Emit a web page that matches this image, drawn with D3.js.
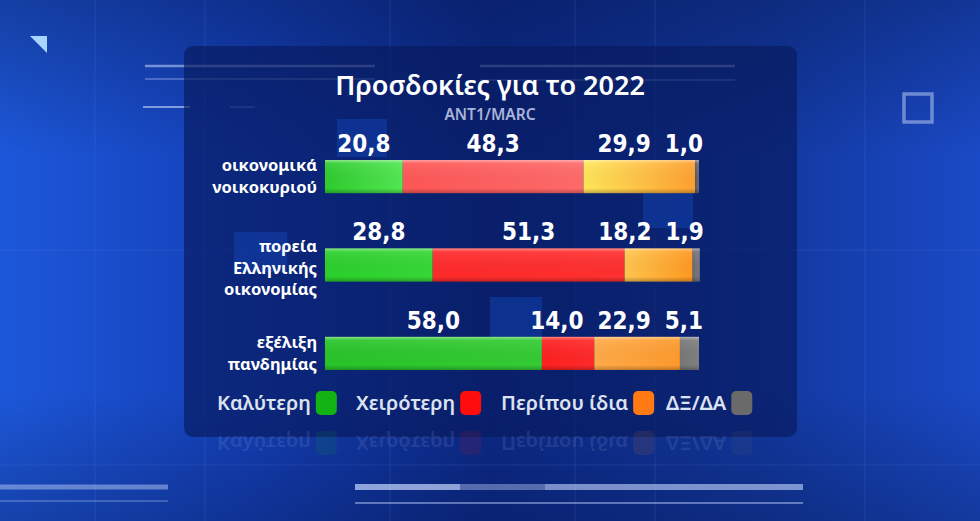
<!DOCTYPE html>
<html>
<head>
<meta charset="utf-8">
<script src="https://cdn.jsdelivr.net/npm/d3@7"></script>
<style>
html,body{margin:0;padding:0;background:#0d2a86;overflow:hidden;}
svg{display:block;}
</style>
</head>
<body>
<svg id="chart" width="980" height="521"></svg>
<script>
// ---------- DATA ----------
const title = "Προσδοκίες για το 2022";
const subtitle = "ANT1/MARC";
const categories = ["οικονομικά νοικοκυριού", "πορεία Ελληνικής οικονομίας", "εξέλιξη πανδημίας"];
const categoryLines = [["οικονομικά", "νοικοκυριού"], ["πορεία", "Ελληνικής", "οικονομίας"], ["εξέλιξη", "πανδημίας"]];
const seriesNames = ["Καλύτερη", "Χειρότερη", "Περίπου ίδια", "ΔΞ/ΔΑ"];
const better = [20.8, 28.8, 58.0];
const worse = [48.3, 51.3, 14.0];
const same = [29.9, 18.2, 22.9];
const dkna = [1.0, 1.9, 5.1];

// ---------- SETUP ----------
const svg = d3.select("#chart");
const W = 980, H = 521;
const defs = svg.append("defs");

const rows = categories.map((c, i) => ({cat: c, i, s0: better[i], s1: worse[i], s2: same[i], s3: dkna[i]}));
const keys = ["s0", "s1", "s2", "s3"];
const stack = d3.stack().keys(keys)(rows);

const x = d3.scaleLinear().domain([0, 100]).range([325, 699]);
const y = d3.scaleBand().domain(d3.range(categories.length)).range([160, 370]).paddingInner(0.625).paddingOuter(0);

const legendColors = ["#14b314", "#ff0c0c", "#ff7a12", "#6a6a6a"];
// per-row, per-series gradient styles (broadcast frame tints)
const barStyles = [
  [["#2ecb2e", "#52e852"], ["#ff5656", "#ff6a6a"], ["#ffe65a", "#ffa030"], ["#5c5c66", "#6c6c74"]],
  [["#2bcf2b", "#36d836"], ["#ff2a2a", "#ff3030"], ["#ffc64e", "#ff9820"], ["#6a6a72", "#7a7a82"]],
  [["#28c428", "#34cc34"], ["#ff2020", "#ff2a2a"], ["#ffab48", "#ff9a2c"], ["#767676", "#808080"]]
];

// ---------- BACKGROUND ----------
const bg = defs.append("linearGradient").attr("id", "bg").attr("x1", 0).attr("x2", 1).attr("y1", 0).attr("y2", 0);
bg.append("stop").attr("offset", "0%").attr("stop-color", "#1d58da");
bg.append("stop").attr("offset", "25%").attr("stop-color", "#1440b8");
bg.append("stop").attr("offset", "50%").attr("stop-color", "#0c2a88");
bg.append("stop").attr("offset", "78%").attr("stop-color", "#12389f");
bg.append("stop").attr("offset", "100%").attr("stop-color", "#1a4ac6");
svg.append("rect").attr("width", W).attr("height", H).attr("fill", "url(#bg)");

const vshade = defs.append("linearGradient").attr("id", "vshade").attr("x1", 0).attr("x2", 0).attr("y1", 0).attr("y2", 1);
vshade.append("stop").attr("offset", "0%").attr("stop-color", "#04113f").attr("stop-opacity", 0.35);
vshade.append("stop").attr("offset", "30%").attr("stop-color", "#04113f").attr("stop-opacity", 0.0);
vshade.append("stop").attr("offset", "75%").attr("stop-color", "#04113f").attr("stop-opacity", 0.0);
vshade.append("stop").attr("offset", "100%").attr("stop-color", "#04113f").attr("stop-opacity", 0.3);
svg.append("rect").attr("width", W).attr("height", H).attr("fill", "url(#vshade)");

// faint grid
const gridX = [95, 205, 390, 575, 655, 865];
const gridY = [250, 465];
svg.append("g").selectAll("line").data(gridX).join("line")
  .attr("x1", d => d).attr("x2", d => d).attr("y1", 0).attr("y2", H)
  .attr("stroke", "#6f8fe8").attr("stroke-opacity", 0.12).attr("stroke-width", 1.5);
svg.append("g").selectAll("line").data(gridY).join("line")
  .attr("x1", 0).attr("x2", W).attr("y1", d => d).attr("y2", d => d)
  .attr("stroke", "#6f8fe8").attr("stroke-opacity", 0.12).attr("stroke-width", 1.5);

// decorative lines
const deco = svg.append("g");
const decoLines = [
  [145, 375, 66, 2.5, 0.55], [145, 375, 79, 1.5, 0.4],
  [480, 735, 66, 2.5, 0.55], [480, 735, 80, 1.5, 0.4],
  [143, 190, 107, 2, 0.6], [230, 255, 107, 2, 0.3],
  [0, 168, 487, 5, 0.45], [0, 168, 501, 1.5, 0.35],
  [355, 460, 487, 6, 0.7], [460, 545, 487, 6, 0.4], [545, 803, 487, 6, 0.6],
  [355, 803, 503, 2, 0.45]
];
deco.selectAll("line").data(decoLines).join("line")
  .attr("x1", d => d[0]).attr("x2", d => d[1]).attr("y1", d => d[2]).attr("y2", d => d[2])
  .attr("stroke", "#c7d7ff").attr("stroke-width", d => d[3]).attr("stroke-opacity", d => d[4]);
deco.append("path").attr("d", "M30,36 L47,36 L47,53 Z").attr("fill", "#a9d4ff");
deco.append("rect").attr("x", 904).attr("y", 94).attr("width", 28).attr("height", 28)
  .attr("fill", "none").attr("stroke", "#8ea4e0").attr("stroke-opacity", 0.75).attr("stroke-width", 3.5);

// ---------- PANEL ----------
svg.append("rect").attr("x", 184).attr("y", 46).attr("width", 613).attr("height", 391).attr("rx", 9)
  .attr("fill", "#081a5c").attr("fill-opacity", 0.66);

// faint blue squares behind bars (broadcast artefacts)
const ghost = [[337, 119, 50, 38], [643, 188, 50, 40], [490, 297, 52, 40], [234, 232, 53, 40]];
svg.append("g").selectAll("rect").data(ghost).join("rect")
  .attr("x", d => d[0]).attr("y", d => d[1]).attr("width", d => d[2]).attr("height", d => d[3])
  .attr("fill", "#1448b8").attr("fill-opacity", 0.45);

// ---------- TITLE ----------
svg.append("text").attr("x", 490).attr("y", 95).attr("text-anchor", "middle")
  .attr("font-family", "'Noto Sans', sans-serif").attr("font-weight", 600).attr("font-size", 27)
  .attr("fill", "#ffffff").text(title);
svg.append("text").attr("x", 490).attr("y", 120).attr("text-anchor", "middle")
  .attr("font-family", "'Noto Sans', sans-serif").attr("font-weight", 600).attr("font-size", 15.5)
  .attr("fill", "#a9b4d8").text(subtitle);

// ---------- BARS ----------
barStyles.forEach((rowStyle, i) => rowStyle.forEach((c, k) => {
  const g = defs.append("linearGradient").attr("id", "bar" + i + "_" + k).attr("x1", 0).attr("x2", 1).attr("y1", 0).attr("y2", 0);
  g.append("stop").attr("offset", "0%").attr("stop-color", c[0]);
  g.append("stop").attr("offset", "100%").attr("stop-color", c[1]);
}));
const gloss = defs.append("linearGradient").attr("id", "gloss").attr("x1", 0).attr("x2", 0).attr("y1", 0).attr("y2", 1);
gloss.append("stop").attr("offset", "0%").attr("stop-color", "#ffffff").attr("stop-opacity", 0.45);
gloss.append("stop").attr("offset", "10%").attr("stop-color", "#ffffff").attr("stop-opacity", 0.08);
gloss.append("stop").attr("offset", "85%").attr("stop-color", "#000000").attr("stop-opacity", 0.0);
gloss.append("stop").attr("offset", "100%").attr("stop-color", "#000000").attr("stop-opacity", 0.25);

const barsG = svg.append("g");
stack.forEach((layer, k) => {
  barsG.append("g").selectAll("rect").data(layer).join("rect")
    .attr("x", d => x(d[0]))
    .attr("y", (d, i) => y(i))
    .attr("width", d => Math.max(0, x(d[1]) - x(d[0])))
    .attr("height", y.bandwidth())
    .attr("fill", (d, i) => "url(#bar" + i + "_" + k + ")");
});
barsG.append("g").selectAll("rect").data(rows).join("rect")
  .attr("x", x(0)).attr("y", d => y(d.i))
  .attr("width", d => x(d.s0 + d.s1 + d.s2 + d.s3) - x(0))
  .attr("height", y.bandwidth()).attr("fill", "url(#gloss)");

// ---------- CATEGORY LABELS ----------
const lineH = 21.5;
const catG = svg.append("g");
categoryLines.forEach((lines, i) => {
  const cy = y(i) + y.bandwidth() / 2 + (lines.length === 3 ? 3 : 0);
  const t = catG.append("text").attr("text-anchor", "end")
    .attr("font-family", "'Noto Sans', sans-serif").attr("font-weight", 700).attr("font-size", 16.5)
    .attr("fill", "#ffffff");
  lines.forEach((ln, j) => {
    t.append("tspan").attr("x", 317)
      .attr("y", cy + (j - (lines.length - 1) / 2) * lineH + 5.5)
      .text(ln);
  });
});

// ---------- VALUE LABELS ----------
const fmt = d3.formatLocale({decimal: ",", thousands: ".", grouping: [3], currency: ["", "€"]}).format(".1f");
const valG = svg.append("g");
rows.forEach((r, i) => {
  const segs = stack.map(layer => layer[i]);
  const texts = segs.map((d, k) => valG.append("text")
    .attr("text-anchor", "middle")
    .attr("font-family", "'DejaVu Sans Condensed', 'Liberation Sans Narrow', sans-serif")
    .attr("font-weight", "bold").attr("font-size", 24)
    .attr("fill", "#ffffff")
    .attr("y", y(i) - 8)
    .text(fmt(d[1] - d[0])));
  const widths = texts.map(t => t.node().getComputedTextLength());
  const cx = segs.map(d => (x(d[0]) + x(d[1])) / 2);
  const n = segs.length;
  cx[n - 1] = Math.min(cx[n - 1], x(segs[n - 1][1]) + 4 - widths[n - 1] / 2);
  const gap = 14;
  for (let k = n - 2; k >= 0; k--) {
    const maxC = cx[k + 1] - widths[k + 1] / 2 - gap - widths[k] / 2;
    if (cx[k] > maxC) cx[k] = maxC;
  }
  texts.forEach((t, k) => t.attr("x", cx[k]));
});

// ---------- LEGEND ----------
const legX = [217, 356, 501, 666];
const legItems = seriesNames.map((n, k) => ({n, k}));
function drawLegend(g) {
  legItems.forEach(d => {
    const t = g.append("text").attr("x", legX[d.k]).attr("y", 410)
      .attr("font-family", "'Noto Sans', sans-serif").attr("font-weight", 600).attr("font-size", 20)
      .attr("fill", "#dde2f0").text(d.n);
    const w = t.node().getComputedTextLength();
    g.append("rect").attr("x", legX[d.k] + w + 5).attr("y", 391).attr("width", 21).attr("height", 24).attr("rx", 5)
      .attr("fill", legendColors[d.k]);
  });
}
drawLegend(svg.append("g"));
// faint reflection under panel
drawLegend(svg.append("g").attr("opacity", 0.1).attr("transform", "translate(0,846) scale(1,-1)"));
</script>
</body>
</html>
